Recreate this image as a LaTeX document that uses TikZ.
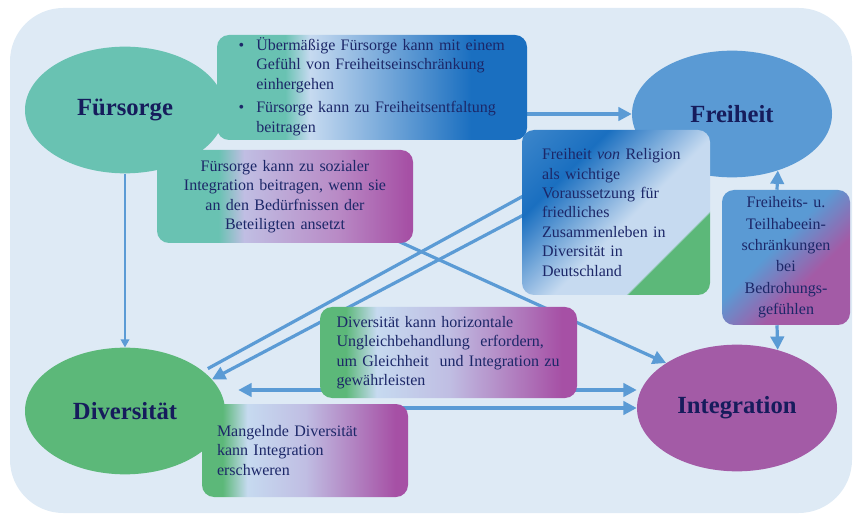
\documentclass[tikz,border=0pt]{standalone}
\usepackage{fontspec}
\setmainfont{Liberation Serif}
\usetikzlibrary{shapes.geometric, arrows.meta, positioning, calc, backgrounds}
\definecolor{canvasblue}{HTML}{DEEAF5}
\definecolor{careteal}{HTML}{69C2B2}
\definecolor{freeblue}{HTML}{5A9AD4}
\definecolor{divgreen}{HTML}{5CB879}
\definecolor{intpurple}{HTML}{A35BA6}
\definecolor{deepblue}{HTML}{1A6FC0}
\definecolor{paleblue}{HTML}{C6DAF0}
\definecolor{lavender}{HTML}{C0BEE3}
\definecolor{midplum}{HTML}{B98BC6}
\definecolor{plum}{HTML}{A650A5}
\definecolor{inkblue}{HTML}{1C2768}
\definecolor{inkdark}{HTML}{161C5C}
\definecolor{linkblue}{HTML}{5B9BD5}

% box shadings (the node spans 25bp--75bp of each)
\pgfdeclarehorizontalshading{tealblue}{100bp}{color(0bp)=(careteal); color(36bp)=(careteal); color(40bp)=(paleblue); color(66bp)=(deepblue); color(100bp)=(deepblue)}
\pgfdeclarehorizontalshading{tealplum}{100bp}{color(0bp)=(careteal); color(37bp)=(careteal); color(42bp)=(lavender); color(60bp)=(midplum); color(74bp)=(plum); color(100bp)=(plum)}
\pgfdeclarehorizontalshading{greenplum}{100bp}{color(0bp)=(divgreen); color(30bp)=(divgreen); color(36bp)=(paleblue); color(50bp)=(lavender); color(72bp)=(plum); color(100bp)=(plum)}
\pgfdeclarehorizontalshading{bluegreen}{100bp}{color(0bp)=(freeblue); color(32bp)=(deepblue); color(54bp)=(paleblue); color(68.5bp)=(paleblue); color(69bp)=(divgreen); color(100bp)=(divgreen)}
\pgfdeclarehorizontalshading{blueplum}{100bp}{color(0bp)=(freeblue); color(44bp)=(freeblue); color(62bp)=(intpurple); color(100bp)=(intpurple)}

\begin{document}
\begin{tikzpicture}[
    x=0.75pt, y=-0.75pt,
    idea/.style={ellipse, minimum width=150pt, minimum height=95pt, inner sep=0pt, text=inkdark, font=\fontsize{18.5}{22}\selectfont\bfseries},
    note/.style={shade, rounded corners=9pt, inner sep=1pt, text=inkblue, font=\fontsize{12}{14.6}\selectfont},
    link/.style={-{Triangle[length=10pt,width=10pt]}, line width=2.4pt, linkblue},
    plainlink/.style={line width=2.4pt, linkblue},
    bilink/.style={{Triangle[length=10pt,width=10pt]}-{Triangle[length=10pt,width=10pt]}, line width=2.4pt, linkblue},
    thinlink/.style={-{Triangle[length=6pt,width=6.5pt]}, line width=1pt, linkblue}
  ]
  \useasboundingbox (0,0) rectangle (856,516);

  % the four concepts
  \node[idea, fill=careteal] (fuersorge) at (125,110) {Fürsorge};
  \node[idea, fill=freeblue] (freiheit) at (732,114) {Freiheit};
  \node[idea, fill=divgreen] (diversitaet) at (125,411) {Diversität};
  \node[idea, fill=intpurple] (integration) at (737,408) {Integration};

  % explanations
  \node[note, shading=tealblue, minimum width=232.5pt, minimum height=78.75pt, text width=200pt, align=left] (boxA) at (372,87.5)
    {\begin{tabular}{@{}l@{\hspace{9pt}}l@{}}
      \textbullet & Übermäßige Fürsorge kann mit einem\\
      & Gefühl von Freiheitseinschränkung\\
      & einhergehen\\[3pt]
      \textbullet & Fürsorge kann zu Freiheitsentfaltung\\
      & beitragen
    \end{tabular}};
  \node[note, shading=tealplum, minimum width=192pt, minimum height=69.75pt, text width=160pt, align=center] (boxB) at (285,196.5)
    {Fürsorge kann zu sozialer\\Integration beitragen, wenn sie\\an den Bedürfnissen der\\Beteiligten ansetzt};
  \node[note, shading=bluegreen, shading angle=-45, minimum width=141pt, minimum height=123.75pt, text width=111pt, align=left] (boxC) at (616,212.5)
    {Freiheit \emph{von} Religion\\als wichtige\\Voraussetzung für\\friedliches\\Zusammenleben in\\Diversität in\\Deutschland};
  \node[note, shading=blueplum, shading angle=-45, minimum width=96pt, minimum height=101.25pt, text width=84pt, align=center, font=\fontsize{12}{16}\selectfont] (boxD) at (786,257.5)
    {Freiheits- u.\\Teilhabeein-\\schränkungen\\bei\\Bedrohungs-\\gefühlen};
  \node[note, shading=greenplum, minimum width=192.75pt, minimum height=68.25pt, text width=168pt, align=left] (boxE) at (448.5,352.5)
    {Diversität kann horizontale\\Ungleichbehandlung\ \ erfordern,\\um Gleichheit\ \ und Integration zu\\gewährleisten};
  \node[note, shading=greenplum, minimum width=154.5pt, minimum height=69.75pt, text width=132pt, align=left] (boxF) at (305,450.5)
    {Mangelnde Diversität\\kann Integration\\erschweren};

  \coordinate (dleft) at ($(diversitaet.east)+(13,-21)$);

  \begin{pgfonlayer}{background}
    \fill[canvasblue, rounded corners=40pt] (10,8) rectangle (852,513);
    \draw[link] (boxA.center |- freiheit.west) -- (freiheit.west);
    \draw[thinlink] (fuersorge.south) -- (diversitaet.north);
    \draw[link] ($(boxB.center)+(15,0)$) -- (integration.north west);
    \draw[plainlink, shorten >=4pt] ($(boxC.west)+(18,-25.5)$) -- (diversitaet.27);
    \draw[link] ($(boxC.west)+(18,-6)$) -- (diversitaet.20);
    \draw[bilink] (dleft) -- (dleft -| integration.west);
    \draw[link] (boxF.center |- integration.west) -- (integration.west);
    \draw[link] ($(boxD.north)+(-9,0)$) -- (freiheit.-51);
    \draw[link] ($(boxD.south)+(-9,0)$) -- (integration.55);
  \end{pgfonlayer}
\end{tikzpicture}
\end{document}
